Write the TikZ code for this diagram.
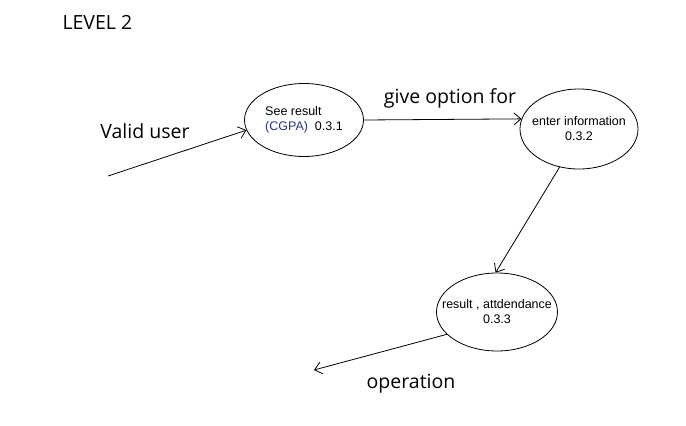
\documentclass[tikz,border=0pt]{standalone}
\usepackage{fontspec}
\setmainfont{Liberation Sans}
\newfontfamily\flowfont{Open Sans}
\usetikzlibrary{arrows.meta,positioning,shapes.geometric}
\definecolor{cgpablue}{rgb}{0.15,0.2,0.5}
\tikzset{
  process/.style = {draw, ellipse, line width=0.8pt, inner xsep=-22pt, inner ysep=-6pt,
                    font=\fontsize{12.5}{15}\selectfont},
  flowlabel/.style = {font=\flowfont\fontsize{19.5}{22}\selectfont},
  flow/.style = {-{Straight Barb[length=7pt,width=12pt]}, line width=0.8pt}
}
\begin{document}
\begin{tikzpicture}[x=1pt,y=-1pt]
\useasboundingbox (0,0) rectangle (686,426);

% title
\node[flowlabel, anchor=west] (title) at (59,22) {LEVEL 2};

% processes of level 2
\node[process, minimum width=119pt, minimum height=73pt, align=left] (see) at (304,120)
  {See result\\{\color{cgpablue}(CGPA)}\ \ 0.3.1};
\node[process, minimum width=118pt, minimum height=80pt, align=center] (enter) at (579,129)
  {enter information\\0.3.2};
\node[process, minimum width=121pt, minimum height=78pt, align=center] (result) at (497,312)
  {result , attdendance\\0.3.3};

% free ends
\coordinate (user) at (108,176);
\coordinate (out) at (314,370);

% flows
\draw[flow] (user) -- (see.190);
\draw[flow] (see.east) -- (enter.170);
\draw[flow] (enter.243) -- (result.92);
\draw[flow] (result.204) -- (out);

% flow labels
\node[flowlabel] (lvalid) at (145,131) {Valid user};
\node[flowlabel] (lgive) at (450,98) {give option for};
\node[flowlabel] (lop) at (411,384) {operation};
\end{tikzpicture}
\end{document}
